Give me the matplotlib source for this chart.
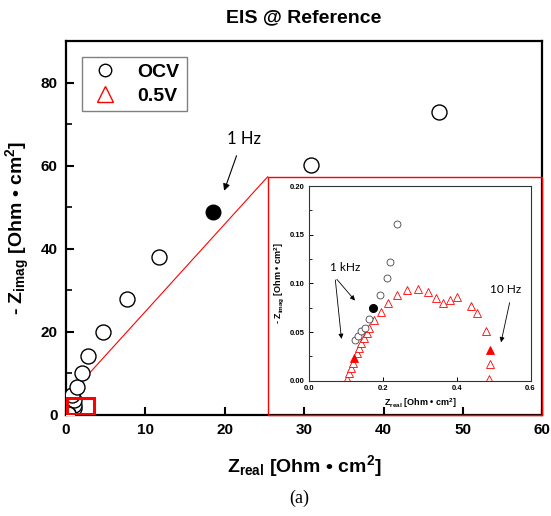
import matplotlib
matplotlib.use("Agg")
import matplotlib.pyplot as plt
from matplotlib.patches import Rectangle
from matplotlib.lines import Line2D
from matplotlib.ticker import MultipleLocator

plt.rcParams['font.family'] = ['Liberation Sans', 'DejaVu Sans']
plt.rcParams['mathtext.fontset'] = 'custom'
plt.rcParams['mathtext.rm'] = 'Liberation Sans:bold'
plt.rcParams['mathtext.it'] = 'Liberation Sans:bold'
plt.rcParams['mathtext.bf'] = 'Liberation Sans:bold'

# ---- data ----
ocv_x = [0.8, 0.95, 1.0, 0.95, 0.72, 1.42, 1.98, 2.81, 4.7, 7.72, 11.71, 30.9, 47.0]
ocv_y = [0.7, 1.5, 2.3, 3.5, 4.7, 6.6, 9.98, 14.1, 19.8, 27.9, 38.1, 60.2, 72.9]
ocv_1hz = (18.55, 48.8)

ins_ocv_x = [0.1242, 0.1333, 0.1397, 0.1514, 0.163, 0.193, 0.2104, 0.2194, 0.2392]
ins_ocv_y = [0.0418, 0.0463, 0.0511, 0.0538, 0.0631, 0.0877, 0.1059, 0.1224, 0.1614]
ins_ocv_1khz = (0.1723, 0.075)

v05_x = [0.1034, 0.108, 0.1134, 0.118, 0.1288, 0.135, 0.1414, 0.1487, 0.156, 0.163,
         0.1767, 0.194, 0.2148, 0.2376, 0.2648, 0.2936, 0.3208, 0.3436, 0.3616, 0.3807,
         0.4007, 0.4388, 0.455, 0.4786, 0.4894, 0.4877]
v05_y = [0.0017, 0.0076, 0.0134, 0.0185, 0.0281, 0.0333, 0.0384, 0.0436, 0.0487, 0.0538,
         0.0624, 0.0709, 0.0795, 0.0877, 0.0932, 0.0946, 0.0912, 0.0847, 0.0802, 0.0829,
         0.0857, 0.0768, 0.0699, 0.0511, 0.0169, 0.0017]
v05_1khz = (0.1224, 0.023)
v05_10hz = (0.4894, 0.0316)

main_xticks = [0, 10, 20, 30, 40, 50, 60]
main_yticks = [0, 20, 40, 60, 80]
ins_xticks = [0.0, 0.2, 0.4, 0.6]
ins_yticks = [0.00, 0.05, 0.10, 0.15, 0.20]

fig = plt.figure(figsize=(5.51, 5.16), dpi=100)
ax = fig.add_axes([0.1198, 0.1963, 0.8644, 0.7242])

ax.plot(ocv_x + ins_ocv_x, ocv_y + ins_ocv_y, 'o', ms=10.8, mfc='white', mec='black', mew=1.0, zorder=3)
ax.plot([ocv_1hz[0]], [ocv_1hz[1]], 'o', ms=10.5, mfc='black', mec='black', zorder=3)
ax.plot(v05_x, v05_y, '^', ms=10, mfc='white', mec='red', mew=1.0, zorder=2)

ax.set_xlim(0, 60)
ax.set_ylim(0, 90)
ax.set_xticks(main_xticks)
ax.set_yticks(main_yticks)
ax.yaxis.set_minor_locator(MultipleLocator(10))
ax.tick_params(axis='both', which='major', direction='in', length=6, width=1.5,
               labelsize=11, pad=6)
ax.tick_params(axis='y', which='minor', direction='in', length=4, width=1.2)
for lab in ax.get_xticklabels() + ax.get_yticklabels():
    lab.set_fontweight('bold')
for s in ax.spines.values():
    s.set_linewidth(1.6)

ax.set_xlabel(r'Z$_{\mathrm{real}}$ [Ohm • cm$^{\mathrm{2}}$]', fontsize=14, fontweight='bold')
ax.set_ylabel(r'- Z$_{\mathrm{imag}}$ [Ohm • cm$^{\mathrm{2}}$]', fontsize=14, fontweight='bold')
ax.xaxis.set_label_coords(0.5, -0.137)
ax.xaxis.label.set_verticalalignment('center')
ax.yaxis.set_label_coords(-0.1008, 0.5)
ax.yaxis.label.set_verticalalignment('center')

# zoom rectangles and connector
ax.add_patch(Rectangle((25.4, 0), 34.6, 57.3, fill=False, ec='red', lw=1.0, zorder=4, clip_on=False))
ax.add_patch(Rectangle((0.1, 0.1), 3.4, 3.9, fill=False, ec='red', lw=2.2, zorder=4))
ax.plot([0.1, 25.4], [4.0, 57.3], color='red', lw=0.8, zorder=1)

ax.annotate('', xy=(19.8, 53.3), xytext=(21.6, 63.0),
            arrowprops=dict(arrowstyle='-|>', color='black', lw=0.8, mutation_scale=10))
ax.text(22.4, 66.4, '1 Hz', fontsize=12, family='Lato', ha='center', va='center')

handles = [Line2D([], [], ls='none', marker='o', ms=9, mfc='white', mec='black', mew=1.0),
           Line2D([], [], ls='none', marker='^', ms=11, mfc='white', mec='red', mew=1.0)]
leg = ax.legend(handles, ['OCV', '0.5V'], loc='upper left', bbox_to_anchor=(0.034, 0.958),
                prop={'weight': 'bold', 'size': 14}, fancybox=False, framealpha=1,
                edgecolor='gray', borderpad=0.35, handletextpad=0.9, labelspacing=0.3,
                handlelength=1.6, borderaxespad=0)
leg.get_frame().set_linewidth(1.0)

# inset
ins = fig.add_axes([0.5613, 0.2622, 0.4015, 0.3773])
ins.plot(ins_ocv_x, ins_ocv_y, 'o', ms=5, mfc='white', mec='#444444', mew=0.6, zorder=3)
ins.plot([ins_ocv_1khz[0]], [ins_ocv_1khz[1]], 'o', ms=5.5, mfc='black', mec='black', zorder=3)
ins.plot(v05_x, v05_y, '^', ms=5.5, mfc='white', mec='red', mew=0.6, zorder=2)
ins.plot([v05_1khz[0], v05_10hz[0]], [v05_1khz[1], v05_10hz[1]], '^', ms=5.5,
         mfc='red', mec='red', mew=0.6, zorder=2)
ins.set_xlim(0, 0.6)
ins.set_ylim(0, 0.2)
ins.set_xticks(ins_xticks)
ins.set_yticks(ins_yticks)
ins.set_xticklabels(['0.0', '0.2', '0.4', '0.6'])
ins.set_yticklabels(['0.00', '0.05', '0.10', '0.15', '0.20'])
ins.yaxis.set_minor_locator(MultipleLocator(0.025))
ins.tick_params(axis='both', which='major', direction='in', length=3, width=0.7,
                labelsize=5.5, pad=3)
ins.tick_params(axis='y', which='minor', direction='in', length=2, width=0.6)
for lab in ins.get_xticklabels() + ins.get_yticklabels():
    lab.set_fontweight('bold')
for s in ins.spines.values():
    s.set_linewidth(0.8)
    s.set_color('#333333')
ins.set_xlabel(r'Z$_{\mathrm{real}}$ [Ohm • cm$^{\mathrm{2}}$]', fontsize=6.5, fontweight='bold', labelpad=3)
ins.set_ylabel(r'- Z$_{\mathrm{imag}}$ [Ohm • cm$^{\mathrm{2}}$]', fontsize=6.5, fontweight='bold', labelpad=3)

ins.text(0.097, 0.1158, '1 kHz', fontsize=8.5, family='Lato', ha='center', va='center')
ins.annotate('', xy=(0.1289, 0.0802), xytext=(0.0699, 0.1063),
             arrowprops=dict(arrowstyle='-|>', color='black', lw=0.6, mutation_scale=7))
ins.annotate('', xy=(0.0881, 0.0401), xytext=(0.0699, 0.1063),
             arrowprops=dict(arrowstyle='-|>', color='black', lw=0.6, mutation_scale=7))
ins.text(0.532, 0.0932, '10 Hz', fontsize=8.5, family='Lato', ha='center', va='center')
ins.annotate('', xy=(0.5185, 0.0367), xytext=(0.545, 0.083),
             arrowprops=dict(arrowstyle='-|>', color='black', lw=0.6, mutation_scale=7))

fig.text(304 / 551, 1 - 17.5 / 516, 'EIS @ Reference', fontsize=14, fontweight='bold',
         ha='center', va='center')
fig.text(299 / 551, 1 - 498 / 516, '(a)', fontsize=13, family='Liberation Serif',
         ha='center', va='center')

fig.savefig('out.png', dpi=100)
